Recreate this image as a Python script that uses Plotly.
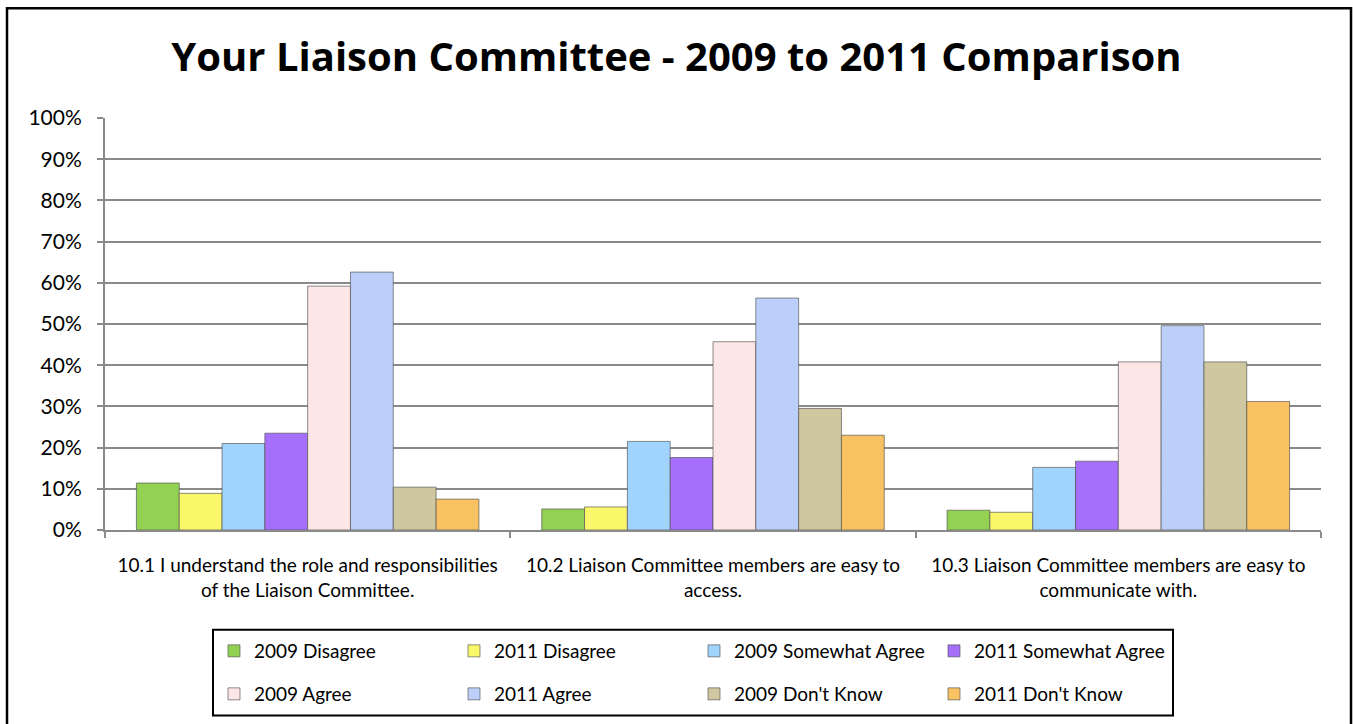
import plotly.graph_objects as go

# Survey questions (x categories)
categories = [
    "10.1 I understand the role and responsibilities<br>of the Liaison Committee.",
    "10.2 Liaison Committee members are easy to<br>access.",
    "10.3 Liaison Committee members are easy to<br>communicate with.",
]

# Percentage of responses per answer, one list per year/answer series
disagree_2009 = [11.4, 5.1, 4.8]
disagree_2011 = [8.9, 5.6, 4.3]
somewhat_2009 = [21.0, 21.5, 15.2]
somewhat_2011 = [23.5, 17.6, 16.7]
agree_2009 = [59.2, 45.7, 40.8]
agree_2011 = [62.6, 56.3, 49.6]
dontknow_2009 = [10.4, 29.5, 40.8]
dontknow_2011 = [7.5, 23.0, 31.2]

series_names = [
    "2009 Disagree", "2011 Disagree", "2009 Somewhat Agree", "2011 Somewhat Agree",
    "2009 Agree", "2011 Agree", "2009 Don't Know", "2011 Don't Know",
]
series_values = [
    disagree_2009, disagree_2011, somewhat_2009, somewhat_2011,
    agree_2009, agree_2011, dontknow_2009, dontknow_2011,
]
series_colors = [
    "#93d152", "#fbf76a", "#a0d3fd", "#a56ffb",
    "#fce6e6", "#bccff8", "#cfc7a0", "#f8c263",
]

W, H = 1353, 724
M_L, M_R, M_T, M_B = 105, 32, 118, 193
PW = W - M_L - M_R
PH = H - M_T - M_B


def px_x(px):
    return (px - M_L) / PW


def px_y(py):
    return (H - M_B - py) / PH


fig = go.Figure()
for i, (name, vals, col) in enumerate(zip(series_names, series_values, series_colors)):
    fig.add_trace(go.Bar(
        x=categories,
        y=vals,
        name=name,
        marker=dict(color=col, line=dict(color="rgba(80,80,80,0.65)", width=1)),
        legend="legend" if i < 4 else "legend2",
        hovertemplate="%{y:.1f}%<extra>" + name + "</extra>",
    ))

legend_common = dict(
    orientation="h",
    xanchor="left",
    yanchor="middle",
    entrywidth=195,
    entrywidthmode="pixels",
    font=dict(family="Lato", size=19, color="#000000"),
    bgcolor="rgba(0,0,0,0)",
    borderwidth=0,
    traceorder="normal",
)

fig.update_layout(
    width=W,
    height=H,
    margin=dict(l=M_L, r=M_R, t=M_T, b=M_B),
    paper_bgcolor="white",
    plot_bgcolor="white",
    barmode="group",
    bargap=0.155,
    bargroupgap=0,
    title=dict(
        text="<b>Your Liaison Committee - 2009 to 2011 Comparison</b>",
        font=dict(family="Open Sans", size=40, color="#000000"),
        x=0.5,
        xanchor="center",
        xref="container",
        y=1 - 57 / H,
        yanchor="middle",
    ),
    legend=dict(legend_common, x=px_x(214), y=px_y(651)),
    legend2=dict(legend_common, x=px_x(214), y=px_y(694)),
    xaxis=dict(
        showline=True,
        linecolor="#8a8a8a",
        linewidth=2,
        ticks="outside",
        tickson="boundaries",
        ticklen=6,
        tickcolor="#8a8a8a",
        tickwidth=2,
        tickangle=0,
        ticklabelstandoff=17,
        tickfont=dict(family="Lato", size=19, color="#000000"),
        showgrid=False,
    ),
    yaxis=dict(
        range=[0, 100],
        dtick=10,
        ticksuffix="%",
        showline=True,
        linecolor="#8a8a8a",
        linewidth=2,
        ticks="outside",
        ticklen=6,
        tickcolor="#8a8a8a",
        tickwidth=2,
        ticklabelstandoff=11,
        showgrid=True,
        gridcolor="#8a8a8a",
        gridwidth=2,
        zeroline=False,
        tickfont=dict(family="Lato", size=21, color="#000000"),
    ),
    shapes=[
        # legend frame
        dict(type="rect", xref="paper", yref="paper",
             x0=px_x(213), x1=px_x(1173), y0=px_y(717), y1=px_y(631),
             line=dict(color="#000000", width=2), fillcolor="rgba(0,0,0,0)"),
        # outer chart frame
        dict(type="rect", xref="paper", yref="paper",
             x0=px_x(7), x1=px_x(1351), y0=px_y(740), y1=px_y(8),
             line=dict(color="#000000", width=2.5), fillcolor="rgba(0,0,0,0)"),
    ],
)

fig.write_html("out.html")
